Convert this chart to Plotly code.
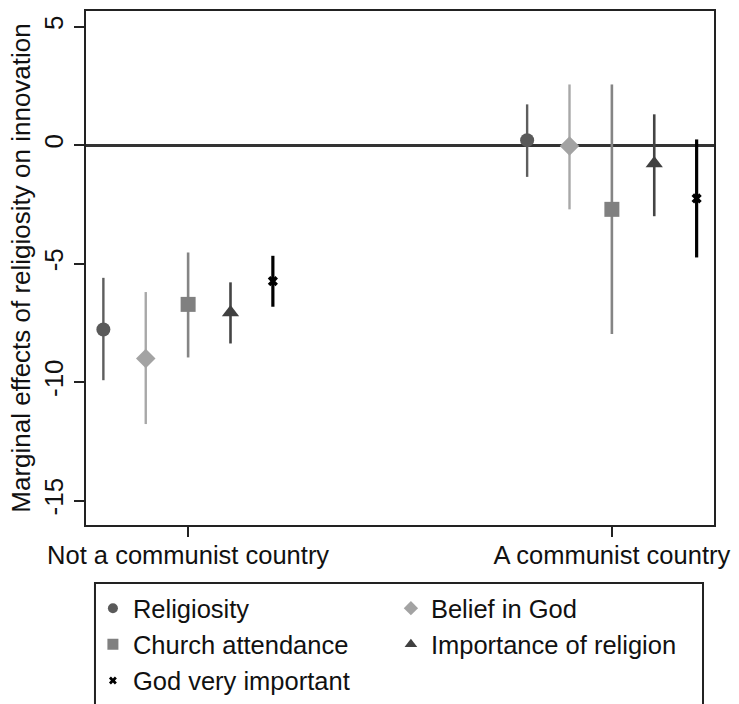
import plotly.graph_objects as go

# Two country groups on the x axis
groups = ["Not a communist country", "A communist country"]

# Religiosity measures (legend order)
measures = ["Religiosity", "Belief in God", "Church attendance",
            "Importance of religion", "God very important"]

# Point estimates per measure: [not communist, communist]
est_religiosity = [-7.78, 0.21]
est_belief = [-9.00, -0.04]
est_church = [-6.72, -2.71]
est_importance = [-7.06, -0.77]
est_god = [-5.74, -2.25]

# Lower bounds of the confidence intervals
lo_religiosity = [-9.92, -1.34]
lo_belief = [-11.77, -2.71]
lo_church = [-8.96, -7.97]
lo_importance = [-8.37, -3.00]
lo_god = [-6.82, -4.74]

# Upper bounds of the confidence intervals
hi_religiosity = [-5.60, 1.72]
hi_belief = [-6.20, 2.56]
hi_church = [-4.53, 2.56]
hi_importance = [-5.79, 1.30]
hi_god = [-4.67, 0.24]

# Y axis tick labels
y_tickvals = [5, 0, -5, -10, -15]
y_ticktext = ["5", "0", "-5", "-10", "-15"]

estimates = [est_religiosity, est_belief, est_church, est_importance, est_god]
lowers = [lo_religiosity, lo_belief, lo_church, lo_importance, lo_god]
uppers = [hi_religiosity, hi_belief, hi_church, hi_importance, hi_god]

marker_colors = ["#5a5a5a", "#a3a3a3", "#808080", "#404040", "#000000"]
line_colors = ["#5e5e5e", "#a8a8a8", "#858585", "#444444", "#000000"]
line_widths = [2.4, 2.4, 2.6, 2.6, 3.2]
symbols = ["circle", "diamond", "square", "triangle-up", "x"]
plot_sizes = [14, 15, 15, 15, 9]
legend_sizes = [10, 11, 11, 11, 7]

group_pos = list(range(len(groups)))
dodge = [-0.2, -0.1, 0.0, 0.1, 0.2]

FONT = "Liberation Sans, Arial, sans-serif"

fig = go.Figure()

for i, name in enumerate(measures):
    xs = [g + dodge[i] for g in group_pos]
    # confidence interval segments
    seg_x, seg_y = [], []
    for x, lo, hi in zip(xs, lowers[i], uppers[i]):
        seg_x += [x, x, None]
        seg_y += [lo, hi, None]
    fig.add_trace(go.Scatter(
        x=seg_x, y=seg_y, mode="lines",
        line=dict(color=line_colors[i], width=line_widths[i]),
        showlegend=False, hoverinfo="skip"))
    # point estimates
    fig.add_trace(go.Scatter(
        x=xs, y=estimates[i], mode="markers", name=name,
        marker=dict(symbol=symbols[i], size=plot_sizes[i],
                    color=marker_colors[i], line=dict(width=0)),
        showlegend=False))
    # legend entry with a smaller symbol
    fig.add_trace(go.Scatter(
        x=[None], y=[None], mode="markers", name=name,
        marker=dict(symbol=symbols[i], size=legend_sizes[i],
                    color=marker_colors[i], line=dict(width=0)),
        showlegend=True))

# frame around the legend, open at the bottom edge of the page
fig.add_shape(type="rect", xref="paper", yref="paper",
              x0=0.0143, x1=0.9825, y0=-0.40, y1=-0.1128,
              line=dict(color="#222222", width=2), fillcolor="rgba(0,0,0,0)")

fig.update_layout(
    width=739, height=704,
    margin=dict(l=86, r=25, t=11, b=179, autoexpand=False),
    paper_bgcolor="white", plot_bgcolor="white",
    font=dict(family=FONT, size=26, color="#111111"),
    legend=dict(
        orientation="h", x=0.011, xanchor="left", y=-0.117, yanchor="top",
        entrywidth=253, entrywidthmode="pixels",
        font=dict(family=FONT, size=25.5, color="#111111"),
        bgcolor="rgba(0,0,0,0)", borderwidth=0, traceorder="normal"),
    xaxis=dict(
        range=[-0.241, 1.241], tickvals=group_pos, ticktext=groups,
        ticks="outside", ticklen=10, tickwidth=1.5, tickcolor="#222222",
        ticklabelstandoff=-4,
        showline=True, linecolor="#222222", linewidth=2, mirror=True,
        showgrid=False, zeroline=False,
        tickfont=dict(family=FONT, size=25.5, color="#111111")),
    yaxis=dict(
        range=[-16.03, 5.66], tickvals=y_tickvals, ticktext=y_ticktext,
        tickangle=-90, ticks="outside", ticklen=10, tickwidth=1.5,
        tickcolor="#222222", ticklabelstandoff=1,
        showline=True, linecolor="#222222", linewidth=2, mirror=True,
        showgrid=False,
        zeroline=True, zerolinecolor="#333333", zerolinewidth=3,
        title=dict(text="Marginal effects of religiosity on innovation",
                   font=dict(family=FONT, size=26, color="#111111"),
                   standoff=0),
        tickfont=dict(family=FONT, size=26, color="#111111")),
)

fig.write_html("out.html")
